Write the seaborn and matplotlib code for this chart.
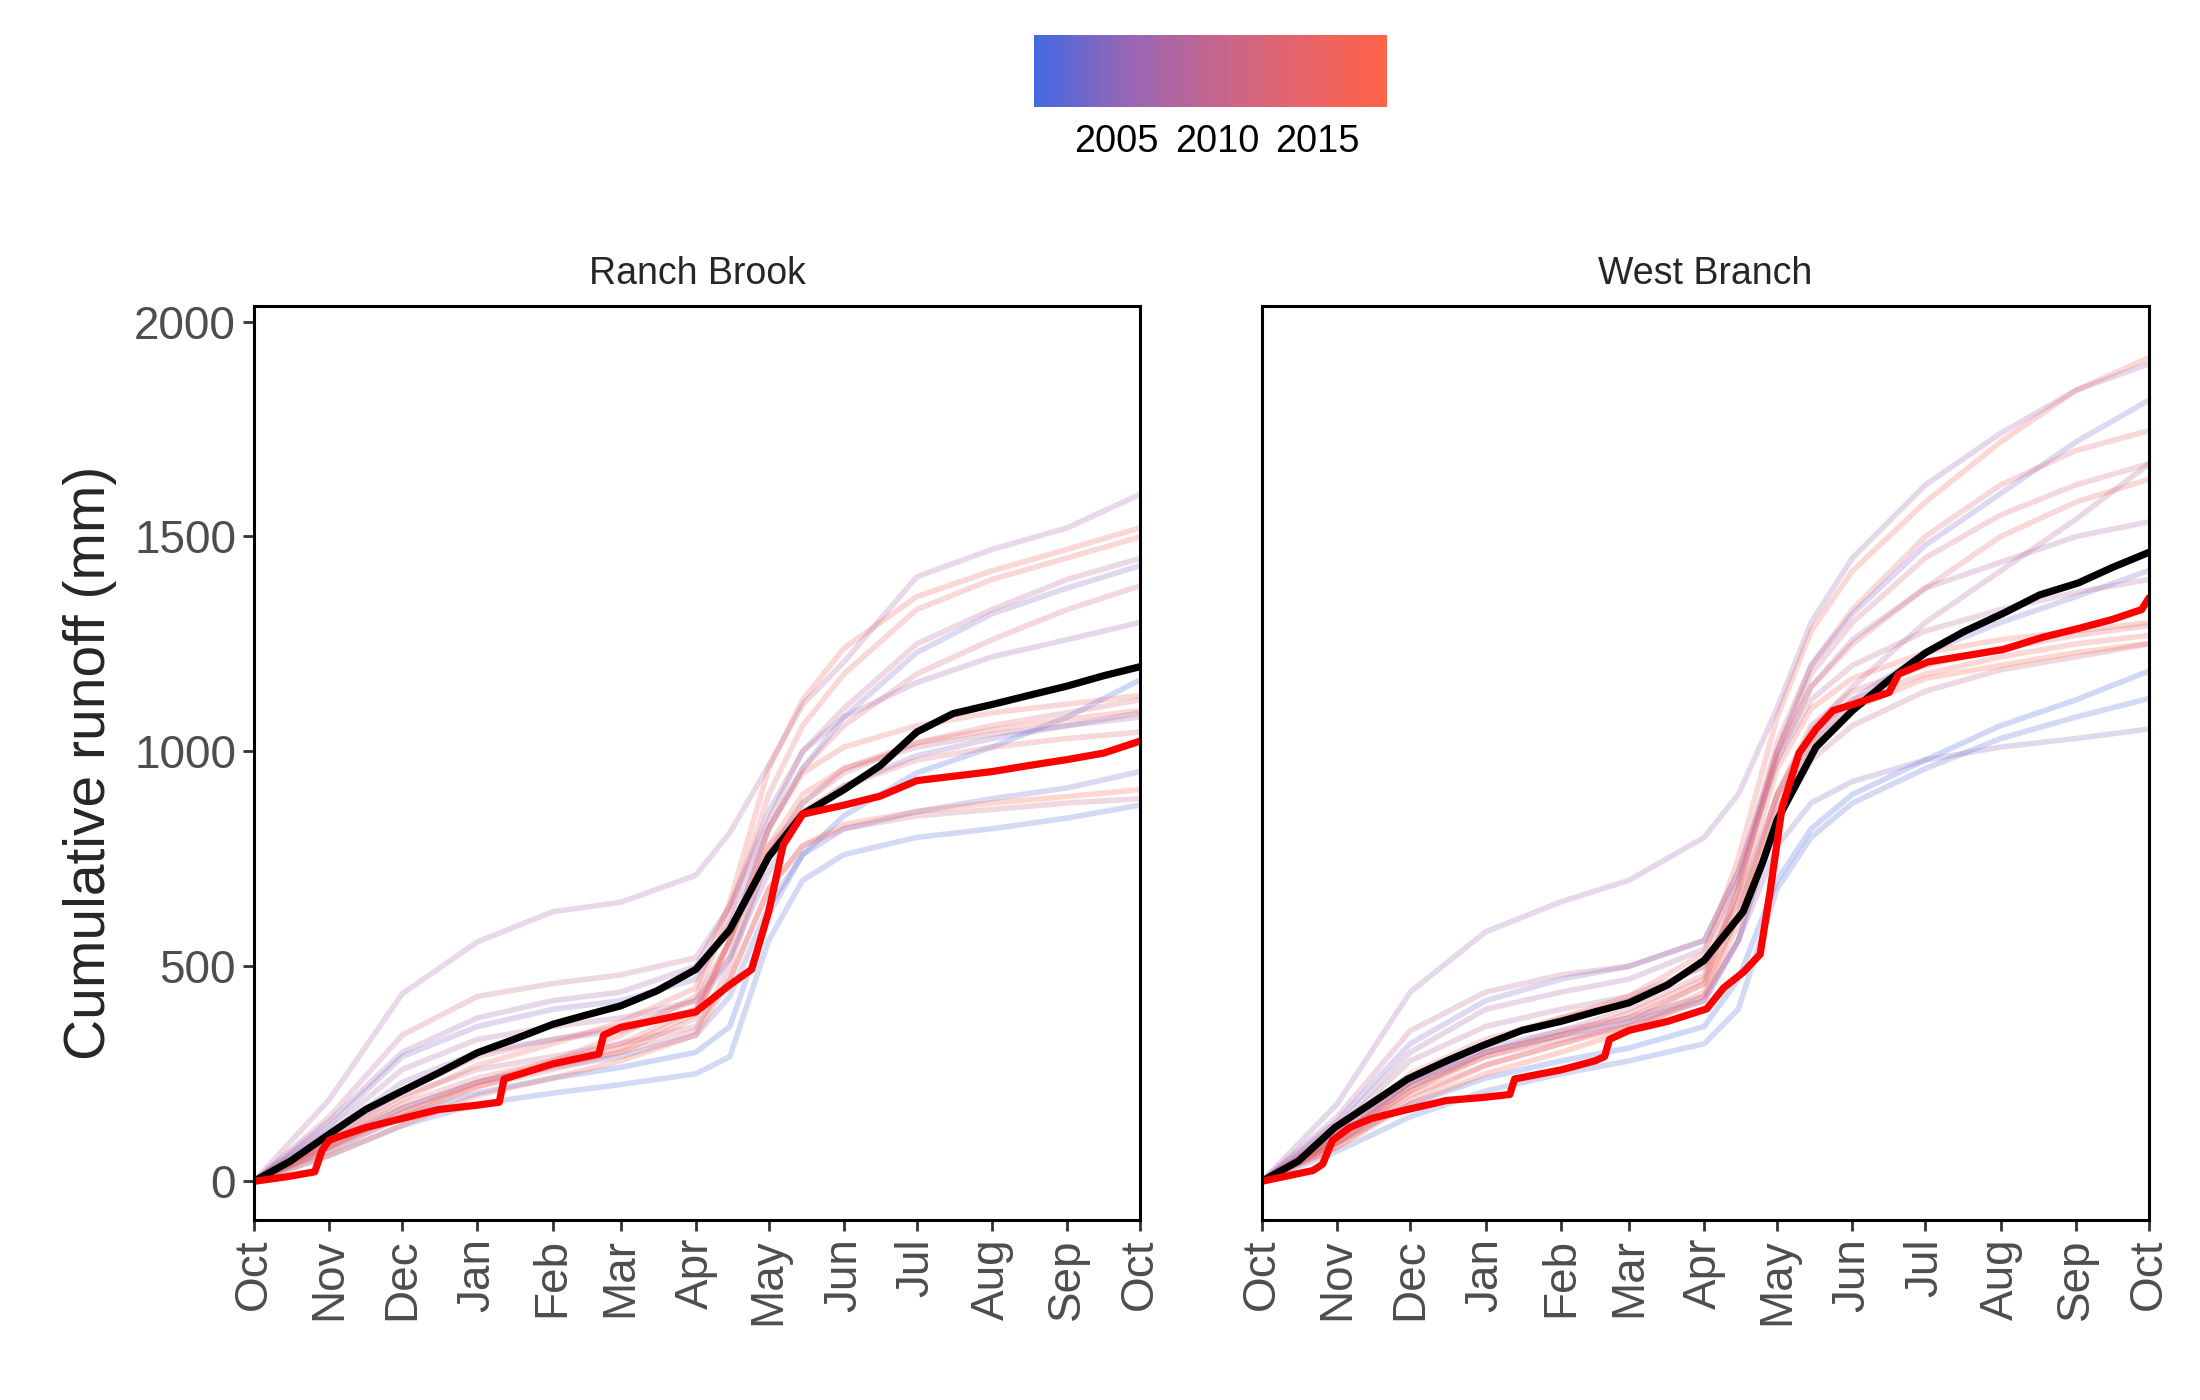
import numpy as np
import pandas as pd
import seaborn as sns
import matplotlib as mpl
from matplotlib import pyplot as plt
from matplotlib.colors import LinearSegmentedColormap, Normalize

# water-year day positions (0 = Oct 1)
month_days = [0, 31, 61, 92, 123, 151, 182, 212, 243, 273, 304, 335, 365]
month_labels = ['Oct', 'Nov', 'Dec', 'Jan', 'Feb', 'Mar', 'Apr', 'May',
                'Jun', 'Jul', 'Aug', 'Sep', 'Oct']

years = list(range(2001, 2019))
grid_days = [0, 31, 61, 92, 123, 151, 182, 196, 212, 226, 243, 273, 304, 335, 365]

# cumulative runoff (mm) per year
ranch_runoff = [
    [0, 75, 150, 205, 240, 265, 300, 360, 620, 760, 850, 950, 1010, 1080, 1166],   # 2001
    [0, 60, 130, 180, 205, 225, 250, 290, 560, 700, 760, 800, 820, 845, 875],      # 2002
    [0, 90, 170, 230, 265, 290, 340, 430, 640, 760, 820, 860, 890, 915, 953],      # 2003
    [0, 130, 290, 360, 400, 420, 470, 600, 820, 960, 1080, 1230, 1320, 1380, 1432],  # 2004
    [0, 110, 230, 300, 330, 350, 400, 520, 720, 850, 920, 990, 1030, 1060, 1090],  # 2005
    [0, 140, 300, 380, 420, 440, 500, 640, 860, 1000, 1080, 1160, 1220, 1260, 1300],  # 2006
    [0, 190, 436, 557, 627, 649, 712, 811, 967, 1109, 1208, 1406, 1470, 1520, 1598],  # 2007
    [0, 120, 260, 330, 360, 380, 420, 520, 760, 880, 960, 1010, 1040, 1060, 1080],  # 2008
    [0, 150, 340, 430, 460, 480, 520, 640, 840, 1000, 1100, 1250, 1330, 1400, 1449],  # 2009
    [0, 100, 200, 260, 290, 320, 360, 470, 680, 780, 820, 850, 865, 880, 890],     # 2010
    [0, 100, 210, 290, 330, 360, 420, 560, 820, 960, 1060, 1180, 1260, 1330, 1385],  # 2011
    [0, 80, 170, 230, 270, 300, 350, 500, 760, 880, 950, 1020, 1060, 1090, 1120],  # 2012
    [0, 90, 180, 240, 280, 320, 400, 560, 780, 860, 920, 980, 1010, 1030, 1045],   # 2013
    [0, 80, 160, 230, 280, 340, 430, 620, 900, 1060, 1180, 1330, 1400, 1450, 1499],  # 2014
    [0, 70, 150, 220, 260, 300, 380, 560, 820, 950, 1010, 1060, 1090, 1110, 1130],  # 2015
    [0, 90, 190, 270, 320, 370, 450, 650, 960, 1120, 1240, 1360, 1420, 1470, 1520],  # 2016
    [0, 80, 160, 220, 270, 310, 390, 560, 780, 900, 960, 1020, 1050, 1075, 1095],  # 2017
    [0, 60, 130, 200, 240, 280, 340, 470, 680, 780, 830, 860, 880, 895, 911],      # 2018
]

west_runoff = [
    [0, 90, 180, 240, 280, 310, 360, 470, 700, 820, 900, 980, 1060, 1120, 1187],   # 2001
    [0, 70, 150, 210, 250, 280, 320, 400, 680, 800, 880, 960, 1030, 1080, 1123],   # 2002
    [0, 110, 230, 300, 340, 370, 420, 560, 860, 1020, 1120, 1230, 1300, 1360, 1421],  # 2003
    [0, 140, 320, 420, 470, 500, 560, 720, 1000, 1200, 1320, 1480, 1600, 1720, 1817],  # 2004
    [0, 100, 230, 310, 350, 380, 430, 560, 780, 880, 930, 980, 1010, 1030, 1052],  # 2005
    [0, 180, 440, 580, 650, 700, 800, 900, 1100, 1300, 1450, 1620, 1740, 1840, 1902],  # 2006
    [0, 130, 300, 400, 440, 470, 540, 700, 980, 1150, 1260, 1380, 1440, 1500, 1534],  # 2007
    [0, 120, 280, 360, 400, 430, 500, 650, 900, 1050, 1150, 1300, 1420, 1540, 1669],  # 2008
    [0, 150, 350, 440, 480, 500, 560, 720, 980, 1120, 1200, 1280, 1330, 1370, 1400],  # 2009
    [0, 100, 220, 290, 330, 360, 420, 560, 840, 980, 1060, 1140, 1190, 1220, 1250],  # 2010
    [0, 90, 210, 300, 350, 400, 480, 680, 1000, 1180, 1300, 1450, 1550, 1620, 1669],  # 2011
    [0, 100, 220, 300, 340, 380, 460, 620, 900, 1060, 1140, 1200, 1240, 1270, 1293],  # 2012
    [0, 110, 250, 330, 380, 420, 500, 700, 1020, 1200, 1330, 1500, 1620, 1700, 1746],  # 2013
    [0, 80, 190, 270, 320, 370, 460, 680, 1000, 1150, 1250, 1380, 1500, 1580, 1633],  # 2014
    [0, 90, 200, 270, 320, 360, 440, 620, 900, 1040, 1120, 1180, 1220, 1250, 1270],  # 2015
    [0, 100, 230, 320, 380, 430, 530, 750, 1080, 1280, 1420, 1580, 1720, 1840, 1916],  # 2016
    [0, 90, 210, 290, 340, 390, 470, 660, 960, 1100, 1170, 1230, 1260, 1280, 1300],  # 2017
    [0, 80, 180, 250, 300, 350, 430, 600, 880, 1020, 1100, 1170, 1200, 1230, 1251],  # 2018
]

# mean curves (black)
ranch_mean_days = [0, 15, 31, 46, 61, 76, 92, 107, 123, 137, 151, 166, 182, 196, 212,
                   226, 243, 258, 273, 288, 304, 319, 335, 350, 365]
ranch_mean = [0, 47, 110, 167, 210, 252, 299, 330, 365, 387, 408, 443, 493, 585, 755,
              854, 911, 967, 1045, 1088, 1109, 1130, 1152, 1176, 1197]
west_mean_days = [0, 15, 30, 45, 60, 76, 91, 107, 123, 137, 151, 167, 182, 198, 206,
                  212, 228, 243, 258, 273, 289, 305, 320, 336, 350, 365]
west_mean = [0, 47, 125, 181, 238, 280, 316, 351, 372, 394, 415, 457, 514, 627, 741,
             840, 1010, 1095, 1166, 1229, 1279, 1321, 1364, 1392, 1428, 1463]

# current year (red)
ranch_cur_days = [0, 14, 25, 28, 31, 46, 61, 76, 92, 101, 103, 123, 137, 142, 144, 151,
                  166, 182, 196, 205, 212, 218, 226, 243, 258, 273, 304, 319, 335, 350, 365]
ranch_cur = [0, 11, 22, 72, 96, 125, 146, 167, 177, 184, 238, 273, 290, 296, 340, 358,
             375, 394, 457, 493, 627, 783, 854, 875, 896, 932, 953, 967, 981, 996, 1024]
west_cur_days = [0, 21, 25, 29, 36, 45, 60, 76, 91, 102, 104, 123, 137, 141, 143, 151,
                 167, 183, 190, 198, 205, 209, 214, 221, 228, 235, 243, 258, 262, 274,
                 305, 321, 336, 350, 362, 365]
west_cur = [0, 25, 40, 95, 125, 146, 167, 188, 195, 202, 238, 259, 280, 290, 330, 351,
            372, 401, 450, 486, 528, 670, 868, 996, 1052, 1095, 1109, 1137, 1180, 1208,
            1237, 1265, 1286, 1307, 1330, 1357]

sites = ['Ranch Brook', 'West Branch']

rows = []
for site, curves in zip(sites, [ranch_runoff, west_runoff]):
    for yr, vals in zip(years, curves):
        for d, v in zip(grid_days, vals):
            rows.append({'site': site, 'year': yr, 'day': d, 'runoff': v})
df = pd.DataFrame(rows)

sns.set_style('white')
plt.rcParams['font.family'] = ['Liberation Sans', 'DejaVu Sans']

cmap = LinearSegmentedColormap.from_list(
    'yr', [(0, '#4169E1'), (0.25, '#9466B8'), (0.5, '#C2668F'),
           (0.75, '#E6646C'), (1, '#FF6347')])

fig = plt.figure(figsize=(11, 7), dpi=200)
ax1 = fig.add_axes([0.1155, 0.1286, 0.4027, 0.6528])
ax2 = fig.add_axes([0.5736, 0.1286, 0.4032, 0.6528])

means = [(ranch_mean_days, ranch_mean), (west_mean_days, west_mean)]
curs = [(ranch_cur_days, ranch_cur), (west_cur_days, west_cur)]

for ax, site, (md, mv), (cd, cv) in zip([ax1, ax2], sites, means, curs):
    sub = df[df['site'] == site]
    sns.lineplot(data=sub, x='day', y='runoff', hue='year', palette=cmap,
                 hue_norm=(2001, 2018), units='year', estimator=None,
                 alpha=0.25, lw=2.0, legend=False, ax=ax)
    sns.lineplot(x=md, y=mv, color='black', lw=2.6, estimator=None, ax=ax)
    sns.lineplot(x=cd, y=cv, color='red', lw=2.6, estimator=None, ax=ax)
    ax.set_xlim(0, 365)
    ax.set_ylim(-90, 2036)
    ax.set_xticks(month_days)
    ax.set_xticklabels(month_labels, rotation=90)
    ax.set_yticks([0, 500, 1000, 1500, 2000])
    ax.set_xlabel('')
    ax.set_ylabel('')
    for s in ax.spines.values():
        s.set_visible(True)
        s.set_color('black')
        s.set_linewidth(1.1)
    ax.tick_params(length=4, width=1.0, color='#333333', labelcolor='#4D4D4D',
                   labelsize=16.5, pad=2.5, bottom=True, left=True)
    ax.set_title(site, fontsize=13.5, pad=8)

ax1.set_ylabel('Cumulative runoff (mm)', fontsize=20.5, labelpad=6)
ax2.tick_params(axis='y', left=False, labelleft=False)

cax = fig.add_axes([0.470, 0.9236, 0.1605, 0.0514])
cb = mpl.colorbar.ColorbarBase(cax, cmap=cmap, norm=Normalize(2000.87, 2018.5),
                               orientation='horizontal', ticks=[2005, 2010, 2015])
cb.outline.set_visible(False)
cax.tick_params(direction='in', length=4.8, width=0.8, color='white', top=True,
                bottom=True, labelsize=13.7, labelcolor='black', pad=6)

plt.savefig('out.png', dpi=200)
